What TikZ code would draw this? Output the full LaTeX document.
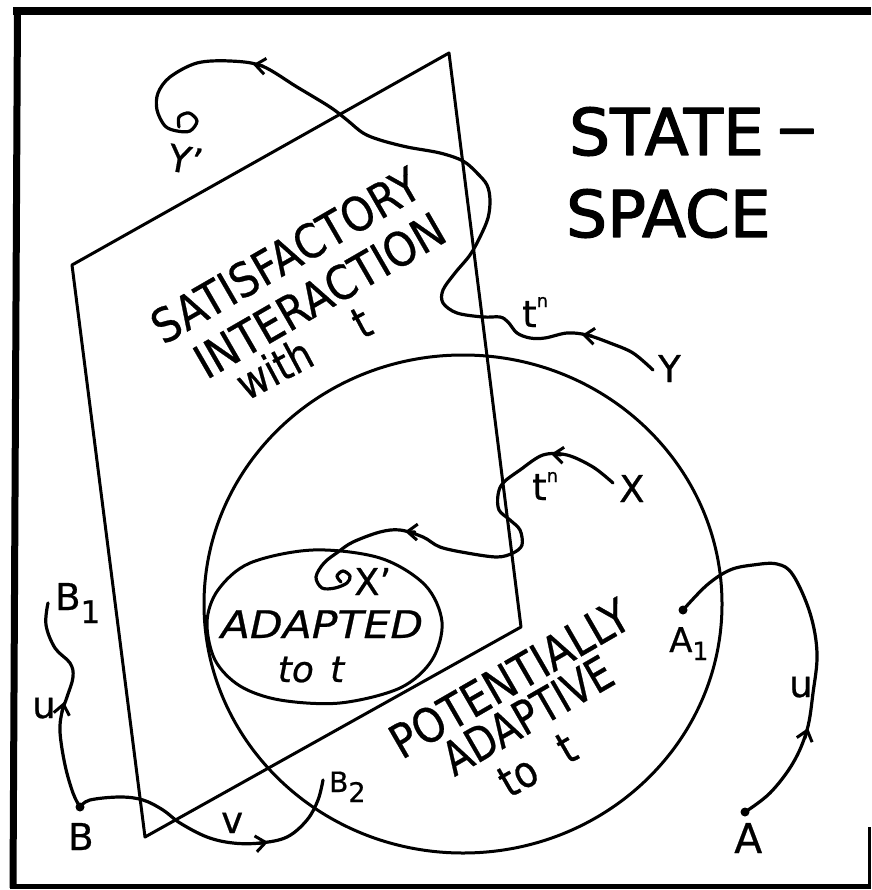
\documentclass[tikz,border=0pt]{standalone}
\usepackage{fontspec}
\usepackage{graphicx}
\setmainfont[FakeBold=0.6]{DejaVu Sans}
\newfontfamily\headfont[FakeBold=2]{DejaVu Sans}
\usetikzlibrary{arrows.meta}
\begin{document}
\begin{tikzpicture}[x=1pt,y=-1pt,line cap=round,line join=round]
\tikzset{
  edge/.style={line width=3pt},
  curve/.style={line width=3.2pt},
  barb/.style={-{Straight Barb[length=10pt,width=16pt]},line width=3pt},
  dotmark/.style={circle,fill,inner sep=0pt,minimum size=9pt},
  lab/.style={font=\fontsize{37}{37}\selectfont,inner sep=0pt,anchor=base west},
  planetext/.style={font=\fontsize{47}{47}\selectfont,inner sep=0pt,rotate=30,anchor=base},
  lowtext/.style={font=\fontsize{44}{44}\selectfont,inner sep=0pt,rotate=28,anchor=base},
  head/.style={font=\headfont\fontsize{64.5}{64.5}\selectfont,inner sep=0pt,anchor=base west},
}
\useasboundingbox (0,0) rectangle (871,890);
% frame
\draw[line width=8pt,line cap=butt] (13,11) -- (871,11);
\draw[line width=7pt,line cap=butt] (17.5,8) -- (13,888);
\draw[line width=5pt,line cap=butt] (10,886) -- (871,886);
\draw[line width=3.5pt,line cap=butt] (869.5,827) -- (869.5,888);

% plane
\coordinate (P1) at (449,53);
\coordinate (P2) at (72,265);
\coordinate (P3) at (145,837);
\coordinate (P4) at (521,627);
\draw[edge] (P1) -- (P2) -- (P3) -- (P4) -- cycle;

% circle and adapted region
\draw[edge] (463,604) ellipse [x radius=259,y radius=249];
\draw[edge] plot[smooth cycle,tension=0.55] coordinates {(207,622) (218,590) (250,563) (313,550) (380,558) (425,585) (442,622) (432,660) (400,688) (340,703) (280,700) (240,686) (215,660)};

% headings
\node[head] (state) at (569,155) {STATE\hspace{0.2em}\raisebox{6pt}{\scalebox{1.25}[1]{–}}};
\node[head] (space) at (566,237) {SPACE};

% plane text
\node[planetext] (sat) at (294,270) {\scalebox{0.88}[1]{SATISFACTORY}};
\node[planetext] (inter) at (328,310) {\scalebox{0.885}[1]{INTERACTION}};
\node[lowtext] (with) at (311,367) {\scalebox{0.85}[1]{with\hspace{1.38em}t}};
\node[planetext] (pot) at (518,693) {\scalebox{0.87}[1]{POTENTIALLY}};
\node[planetext] (adap) at (536,730) {\scalebox{0.81}[1]{ADAPTIVE}};
\node[lowtext,rotate=2] (tot) at (545,778) {\scalebox{0.85}[1]{to\hspace{0.8em}t}};
\node[inner sep=0pt,anchor=base,font=\itshape\fontsize{38}{38}\selectfont] (adapted) at (322,638) {\scalebox{1.12}[1]{ADAPTED}};
\node[inner sep=0pt,anchor=base,font=\itshape\fontsize{36}{36}\selectfont] (tot2) at (311,682) {to\hspace{0.45em}t};

% labels
\node[lab] (Ylab) at (658,382) {Y};
\node[lab,rotate=-10] (Yplab) at (166,170) {Y'};
\node[lab] (Xlab) at (619,502) {X};
\node[lab] (Xplab) at (354,595) {X'};
\node[lab] (B1lab) at (55,610) {B\raisebox{-13pt}{\fontsize{31}{31}\selectfont 1}};
\node[lab] (Blab) at (68,850) {B};
\node[lab,font=\fontsize{28}{28}\selectfont] (B2lab) at (329,792) {B\raisebox{-10pt}{\fontsize{27}{27}\selectfont 2}};
\node[lab,font=\fontsize{41}{41}\selectfont] (Alab) at (734,853) {A};
\node[lab,font=\fontsize{34}{34}\selectfont] (A1lab) at (669,652) {A\raisebox{-8pt}{\fontsize{25}{25}\selectfont 1}};
\node[lab] (u1) at (32,718) {u};
\node[lab] (u2) at (789,697) {u};
\node[lab] (v) at (221,833) {v};
\node[lab] (tn1) at (522,327) {t\raisebox{20pt}{\fontsize{18}{18}\selectfont n}};
\node[lab] (tn2) at (532,500) {t\raisebox{18pt}{\fontsize{18}{18}\selectfont n}};

% points
\node[dotmark] (B) at (80,807) {};
\node[dotmark] (A) at (745,812) {};
\node[dotmark] (A1) at (683,610) {};
\coordinate (B1) at (48,603);
\coordinate (B2) at (323,780);
\coordinate (Y) at (653,370);
\coordinate (X) at (613,483);

% Y -> Y'
\draw[curve] plot[smooth,tension=0.55] coordinates {(Y) (633,353) (610,343) (587,335) (567,333) (545,338) (530,338) (517,333) (508,322) (500,317) (483,317) (457,313) (443,303) (443,290) (455,273) (470,255) (480,237) (488,218) (490,200) (487,185) (477,173) (463,161) (440,153) (407,147) (380,140) (363,133) (347,120) (330,107) (297,87) (262,66) (230,61) (197,63) (170,77) (158,93) (157,110) (165,126) (177,131) (190,131) (197,121) (189,113) (179,117) (179,127)};
\draw[barb] (592,336) -- (582,335);
\draw[barb] (263,66) -- (253,64.5);

% X -> X'
\draw[curve] plot[smooth,tension=0.55] coordinates {(X) (593,467) (567,455) (543,455) (520,470) (503,483) (498,495) (499,510) (510,520) (520,530) (522,545) (513,553) (497,557) (467,553) (440,547) (423,537) (400,530) (380,532) (353,542) (338,552) (324,563) (316,577) (322,588) (335,588) (347,583) (350,576) (343,571) (337,576) (341,582)};
\draw[barb] (561,455) -- (551,454);
\draw[barb] (415,532) -- (405,531.5);

% B -> B1
\draw[curve] plot[smooth,tension=0.6] coordinates {(B.center) (73,793) (65,765) (60,732) (62,712) (67,697) (73,677) (70,663) (55,648) (46,625) (48,603)};
\draw[barb] (62,712) -- (64,702);

% B -> B2
\draw[curve] plot[smooth,tension=0.6] coordinates {(B.center) (90,800) (120,797) (143,800) (163,810) (180,823) (207,837) (233,843) (260,843) (287,837) (307,820) (318,800) (B2)};
\draw[barb] (258,843.5) -- (268,842);

% A -> A1
\draw[curve] plot[smooth,tension=0.6] coordinates {(A.center) (770,793) (793,763) (807,730) (813,693) (817,653) (810,613) (793,575) (777,564) (753,565) (730,570) (707,585) (A1.center)};
\draw[barb] (805,738) -- (808,728);
\end{tikzpicture}
\end{document}
